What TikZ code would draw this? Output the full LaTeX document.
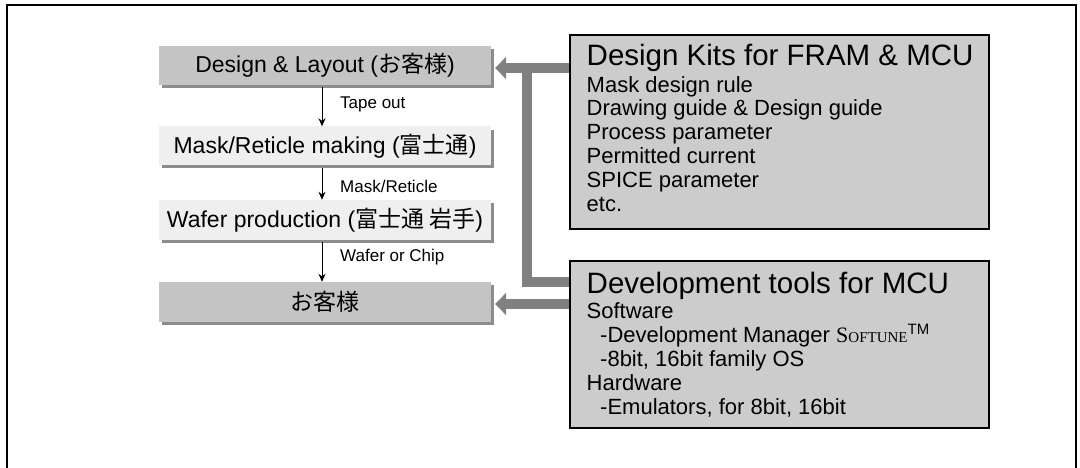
\documentclass[tikz,border=0pt]{standalone}
\usepackage{fontspec}
\setmainfont{Liberation Sans}
\newfontfamily\jpfont{Noto Sans CJK JP}
\newfontfamily\tmsfont{Liberation Serif}
\usetikzlibrary{arrows.meta}
\definecolor{boxdark}{HTML}{C4C4C4}
\definecolor{boxlight}{HTML}{EFEFEF}
\definecolor{kitfill}{HTML}{CCCCCC}
\definecolor{shadowgray}{HTML}{8C8C8C}
\definecolor{pipegray}{HTML}{808080}
\newcommand{\softunename}{{\tmsfont S{\fontsize{15}{15}\selectfont OFTUNE}}\textsuperscript{\fontsize{15}{15}\selectfont TM}}
\tikzset{
  flowbox/.style={rectangle, inner sep=0pt, minimum width=332pt, minimum height=39pt,
    font=\fontsize{23}{25}\selectfont},
  shadowbox/.style={fill=shadowgray, draw=none},
  kitbox/.style={rectangle, draw=black, line width=2.5pt, fill=kitfill, inner sep=0pt,
    minimum width=419pt},
  titletext/.style={anchor=base west, inner sep=0pt, font=\fontsize{29.5}{30}\selectfont},
  bodytext/.style={anchor=base west, inner sep=0pt, font=\fontsize{22}{24}\selectfont},
  labeltext/.style={anchor=base west, inner sep=0pt, font=\fontsize{17}{19}\selectfont},
  flowarrow/.style={-{Stealth[length=8pt,width=7pt]}, line width=1pt, black},
  pipe/.style={line width=10pt, pipegray},
  pipearrow/.style={line width=10pt, pipegray, -{Triangle[length=11pt,width=22pt]}}
}
\begin{document}
\begin{tikzpicture}[x=1pt,y=-1pt]
\useasboundingbox (0,0) rectangle (1080,468);
\fill[white] (0,0) rectangle (1080,468);
% outer frame
\draw[line width=2pt] (7,468) -- (7,5) -- (1076,5) -- (1076,468);

% shadows
\fill[shadowgray] (162,49) rectangle (494,88);
\fill[shadowgray] (162,130) rectangle (494,168);
\fill[shadowgray] (162,203) rectangle (494,243);
\fill[shadowgray] (162,285) rectangle (494,325);

% flow boxes
\node[flowbox, fill=boxdark]  (d1) at (325,65.5) {Design \& Layout ({\jpfont お客様})};
\node[flowbox, fill=boxlight] (d2) at (325,146) {Mask/Reticle making ({\jpfont 富士通})};
\node[flowbox, fill=boxlight, minimum height=40pt] (d3) at (325,220) {Wafer production ({\jpfont 富士通 岩手})};
\node[flowbox, fill=boxdark, minimum height=40pt]  (d4) at (325,302) {{\jpfont お客様}};

% flow arrows
\draw[flowarrow] ([xshift=-3pt,yshift=-2pt]d1.south) -- ([xshift=-3pt]d2.north);
\draw[flowarrow] ([xshift=-3pt,yshift=-2pt]d2.south) -- ([xshift=-3pt]d3.north);
\draw[flowarrow] ([xshift=-3pt,yshift=-2pt]d3.south) -- ([xshift=-3pt]d4.north);
\node[labeltext] (l1) at (340,109) {Tape out};
\node[labeltext] (l2) at (340,193) {Mask/Reticle};
\node[labeltext] (l3) at (340,261.5) {Wafer or Chip};

% kit boxes
\node[kitbox, minimum height=194pt] (dk) at (779.5,132) {};
\node[kitbox, minimum height=167pt] (dt) at (779.5,344.5) {};

\node[titletext] (dkt) at (586.5,65.5) {Design Kits for FRAM \& MCU};
\node[bodytext] (dk1) at (586.5,92.5) {Mask design rule};
\node[bodytext] (dk2) at (586.5,116) {Drawing guide \& Design guide};
\node[bodytext] (dk3) at (586.5,139.5) {Process parameter};
\node[bodytext] (dk4) at (586.5,163.5) {Permitted current};
\node[bodytext] (dk5) at (586.5,188) {SPICE parameter};
\node[bodytext] (dk6) at (586.5,211.5) {etc.};

\node[titletext] (dtt) at (586.5,293.5) {Development tools for MCU};
\node[bodytext] (dt1) at (586.5,318) {Software};
\node[bodytext] (dt2) at (600,342) {-Development Manager \softunename};
\node[bodytext] (dt3) at (600,366) {-8bit, 16bit family OS};
\node[bodytext] (dt4) at (586.5,390) {Hardware};
\node[bodytext] (dt5) at (600,414) {-Emulators, for 8bit, 16bit};

% gray pipes
\coordinate (jtop) at (526.5,68);
\coordinate (jbot) at (526.5,282);
\coordinate (jlow) at (526.5,304);
\draw[pipe] (dk.west |- jtop) -- (jtop) -- (jbot) -- (dt.west |- jbot);
\draw[pipearrow] (dk.west |- jtop) -- ([xshift=4pt]d1.east |- jtop);
\draw[pipearrow] (dt.west |- jlow) -- ([xshift=4pt]d4.east |- jlow);
\end{tikzpicture}
\end{document}
